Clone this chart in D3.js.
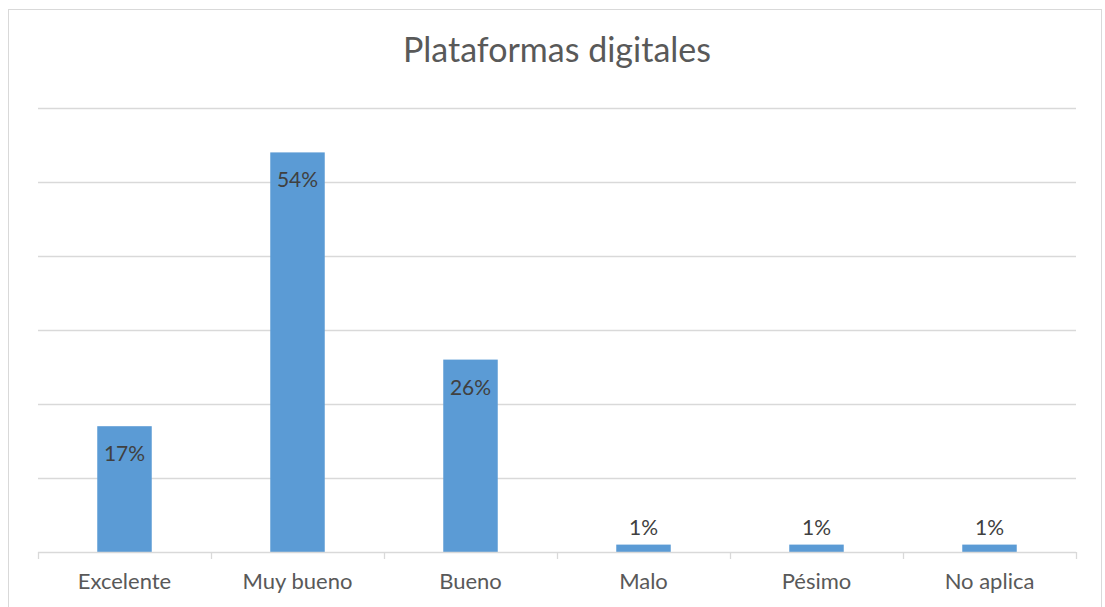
<!DOCTYPE html>
<html>
<head>
<meta charset="utf-8">
<script src="https://cdn.jsdelivr.net/npm/d3@7"></script>
<style>
  html, body { margin: 0; padding: 0; background: #ffffff; }
  svg { display: block; font-family: Lato, "Open Sans", sans-serif; }
</style>
</head>
<body>
<svg id="chart" width="1105" height="607"></svg>
<script>
// Survey ratings of digital platforms (percentage of responses)
const categories = ["Excelente", "Muy bueno", "Bueno", "Malo", "Pésimo", "No aplica"];
const values = [17, 54, 26, 1, 1, 1];
const yTicks = [0, 10, 20, 30, 40, 50, 60];
const title = "Plataformas digitales";

const svg = d3.select("#chart");
const plot = { left: 38, right: 1076, top: 108, bottom: 552 };

// Chart frame
svg.append("rect")
  .attr("x", 8.5).attr("y", 9.5)
  .attr("width", 1093).attr("height", 620)
  .attr("fill", "#ffffff")
  .attr("stroke", "#d9d9d9")
  .attr("stroke-width", 1);

// Title
svg.append("text")
  .attr("x", 557).attr("y", 62)
  .attr("text-anchor", "middle")
  .attr("font-size", 34)
  .attr("fill", "#595959")
  .text(title);

const p = 0.685;
const x = d3.scaleBand()
  .domain(categories)
  .range([plot.left, plot.right])
  .paddingInner(p)
  .paddingOuter(p / 2);

const y = d3.scaleLinear()
  .domain([0, 60])
  .range([plot.bottom, plot.top]);

// Horizontal gridlines
svg.append("g")
  .selectAll("line")
  .data(yTicks.filter(t => t > 0))
  .join("line")
  .attr("x1", plot.left).attr("x2", plot.right)
  .attr("y1", d => Math.round(y(d)) + 0.5)
  .attr("y2", d => Math.round(y(d)) + 0.5)
  .attr("stroke", "#d9d9d9")
  .attr("stroke-width", 1.3);

// Bars
svg.append("g")
  .selectAll("rect")
  .data(values)
  .join("rect")
  .attr("x", (d, i) => x(categories[i]))
  .attr("y", d => y(d))
  .attr("width", x.bandwidth())
  .attr("height", d => y(0) - y(d))
  .attr("fill", "#5b9bd5");

// Category axis with boundary ticks
const step = x.step();
const axisG = svg.append("g");
axisG.append("line")
  .attr("x1", plot.left).attr("x2", plot.right)
  .attr("y1", plot.bottom + 0.5).attr("y2", plot.bottom + 0.5)
  .attr("stroke", "#d9d9d9")
  .attr("stroke-width", 1.3);
axisG.selectAll("line.tick")
  .data(d3.range(categories.length + 1))
  .join("line")
  .attr("class", "tick")
  .attr("x1", i => plot.left + i * step + 0.5)
  .attr("x2", i => plot.left + i * step + 0.5)
  .attr("y1", plot.bottom).attr("y2", plot.bottom + 7)
  .attr("stroke", "#d9d9d9")
  .attr("stroke-width", 1.3);
axisG.selectAll("text")
  .data(categories)
  .join("text")
  .attr("x", d => x(d) + x.bandwidth() / 2)
  .attr("y", 589)
  .attr("text-anchor", "middle")
  .attr("font-size", 22)
  .attr("fill", "#595959")
  .text(d => d);

// Value labels: inside the top of tall bars, above short ones
svg.append("g")
  .selectAll("text")
  .data(values)
  .join("text")
  .attr("x", (d, i) => x(categories[i]) + x.bandwidth() / 2)
  .attr("y", d => d >= 5 ? y(d) + 35 : y(d) - 10)
  .attr("text-anchor", "middle")
  .attr("font-size", 21)
  .attr("fill", "#404040")
  .text(d => d + "%");
</script>
</body>
</html>
